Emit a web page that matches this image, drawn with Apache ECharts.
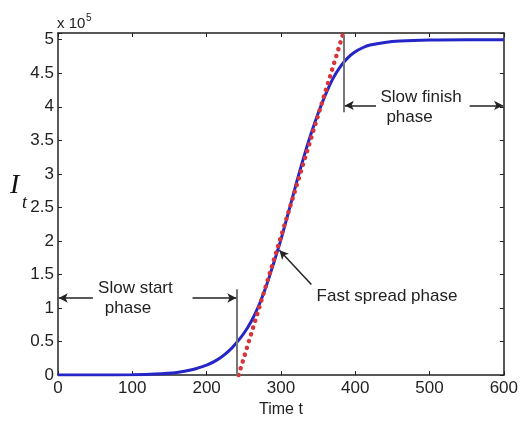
<!DOCTYPE html>
<html>
<head>
<meta charset="utf-8">
<script src="https://cdn.jsdelivr.net/npm/echarts@6/dist/echarts.min.js"></script>
<style>
html,body{margin:0;padding:0;background:#fff;}
#c{width:521px;height:423px;}
</style>
</head>
<body>
<div id="c"></div>
<script>
// Data (I_t in units of 1e5)
var timeT = [0, 50, 100, 130, 160, 180, 200, 210, 220, 230, 240, 250, 260, 270, 280, 290, 300, 310, 320, 330, 340, 350, 360, 370, 380, 390, 400, 410, 420, 440, 460, 500, 550, 600];
var infected = [0, 0, 0.005, 0.015, 0.04, 0.08, 0.15, 0.2, 0.27, 0.36, 0.48, 0.62, 0.8, 1.03, 1.32, 1.66, 2.02, 2.42, 2.83, 3.22, 3.58, 3.9, 4.18, 4.42, 4.6, 4.73, 4.82, 4.88, 4.92, 4.96, 4.98, 4.995, 5.0, 5.0];
var tangentT = [243, 384];
var tangentI = [0, 5.1];
var xTicks = [0, 100, 200, 300, 400, 500, 600];
var yTicks = [0, 0.5, 1, 1.5, 2, 2.5, 3, 3.5, 4, 4.5, 5];

var blueData = timeT.map(function (t, i) { return [t, infected[i]]; });
var redData = tangentT.map(function (t, i) { return [t, tangentI[i]]; });

var chart = echarts.init(document.getElementById('c'));
var txt = '#222';
var FONT = 'Liberation Sans, Arial, sans-serif';
var SERIF = 'Liberation Serif, Times New Roman, serif';

function baseAxis(extra) {
  return Object.assign({
    type: 'value',
    axisLine: { show: true, onZero: false, lineStyle: { color: '#222', width: 1.5 } },
    axisTick: { show: true, inside: true, length: 4, lineStyle: { color: '#222', width: 1 } },
    splitLine: { show: false }
  }, extra);
}

var grayLine = { color: '#777', width: 2, type: 'solid' };
var arrowLine = { color: '#222', width: 1.5, type: 'solid' };

chart.setOption({
  animation: false,
  backgroundColor: '#fff',
  grid: { left: 58, right: 15, top: 33, bottom: 36 },
  xAxis: [
    baseAxis({
      min: 0, max: 600, interval: 100, position: 'bottom',
      name: 'Time t', nameLocation: 'middle', nameGap: 22,
      nameTextStyle: { color: txt, fontSize: 16, fontFamily: FONT },
      axisLabel: { color: txt, fontSize: 17, fontFamily: FONT, margin: 5,
        formatter: function (v) { return xTicks.indexOf(v) >= 0 ? String(v) : ''; } }
    }),
    baseAxis({ min: 0, max: 600, interval: 100, position: 'top', axisLabel: { show: false } })
  ],
  yAxis: [
    baseAxis({
      min: 0, max: 5.1, interval: 0.5, position: 'left',
      axisLabel: { color: txt, fontSize: 17, fontFamily: FONT, margin: 4,
        formatter: function (v) { var r = Math.round(v * 10) / 10; return (yTicks.indexOf(r) >= 0 && v <= 5.01) ? String(r) : ''; } }
    }),
    baseAxis({ min: 0, max: 5.1, interval: 0.5, position: 'right', axisLabel: { show: false } })
  ],
  series: [
    {
      type: 'line', data: blueData, smooth: 0.3, showSymbol: false, symbol: 'none',
      lineStyle: { color: '#2525c8', width: 3 }, z: 3,
      markLine: {
        silent: true, symbol: ['none', 'none'], label: { show: false },
        lineStyle: grayLine,
        data: [
          [{ coord: [241, 0] }, { coord: [241, 1.28] }],
          [{ coord: [384, 3.92] }, { coord: [384, 5.07] }]
        ]
      }
    },
    {
      type: 'line', data: redData, showSymbol: false, symbol: 'none',
      lineStyle: { color: '#d6333b', width: 4.5, type: [0.1, 7], cap: 'round' }, z: 4
    },
    {
      type: 'line', data: [], showSymbol: false,
      markLine: {
        silent: true, symbol: ['none', 'arrow'], symbolSize: [7, 9], label: { show: false },
        lineStyle: arrowLine,
        data: [
          [{ coord: [47, 1.15] }, { coord: [1, 1.15] }],
          [{ coord: [181, 1.15] }, { coord: [240, 1.15] }],
          [{ coord: [428, 4.02] }, { coord: [386, 4.02] }],
          [{ coord: [554, 4.02] }, { coord: [599, 4.02] }],
          [{ coord: [341, 1.35] }, { coord: [298, 1.86] }]
        ]
      }
    }
  ]
});

function px(x, y) { return chart.convertToPixel({ xAxisIndex: 0, yAxisIndex: 0 }, [x, y]); }
function label(text, x, y) {
  var p = px(x, y);
  return { type: 'text', x: p[0], y: p[1], z: 10,
    style: { text: text, fill: txt, font: '17px ' + FONT, textAlign: 'left', textVerticalAlign: 'middle' } };
}
var corner = px(0, 5.1);
chart.setOption({
  graphic: [
    label('Slow start', 54, 1.30),
    label('phase', 63, 1.0),
    label('Slow finish', 434, 4.14),
    label('phase', 442, 3.84),
    label('Fast spread phase', 348, 1.17),
    { type: 'text', x: corner[0] - 1, y: corner[1] - 17, z: 10,
      style: { text: 'x 10', fill: txt, font: '15px ' + FONT, textAlign: 'left', textVerticalAlign: 'top' } },
    { type: 'text', x: corner[0] + 28, y: corner[1] - 20, z: 10,
      style: { text: '5', fill: txt, font: '10px ' + FONT, textAlign: 'left', textVerticalAlign: 'top' } },
    { type: 'text', x: 10, y: 172, z: 10,
      style: { text: 'I', fill: '#111', font: 'italic 28px ' + SERIF, textAlign: 'left', textVerticalAlign: 'top' } },
    { type: 'text', x: 22, y: 194, z: 10,
      style: { text: 't', fill: '#111', font: 'italic 18px ' + SERIF, textAlign: 'left', textVerticalAlign: 'top' } }
  ]
});
</script>
</body>
</html>
